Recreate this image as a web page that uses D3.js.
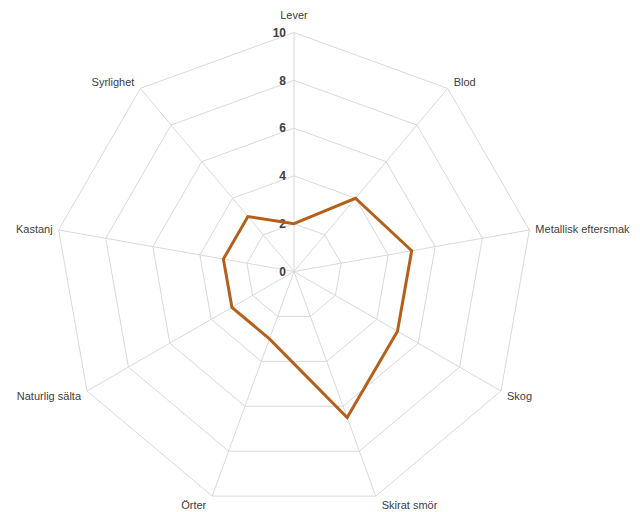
<!DOCTYPE html>
<html><head><meta charset="utf-8">
<script src="https://cdn.jsdelivr.net/npm/d3@7/dist/d3.min.js"></script>
<style>body{margin:0;background:#fff}svg{display:block}</style>
</head><body>
<svg id="c" width="640" height="512"></svg>
<script>
const categories = ["Lever","Blod","Metallisk eftersmak","Skog","Skirat smör","Örter","Naturlig sälta","Kastanj","Syrlighet"];
const values = [2, 4, 5, 5, 6.5, 3, 3, 3, 3];
const ticks = [0, 2, 4, 6, 8, 10];

const svg = d3.select("#c");
const cx = 294, cy = 271.5, R = 239;
const r = d3.scaleLinear().domain([0, 10]).range([0, R]);
const ang = d3.scaleLinear().domain([0, categories.length]).range([0, 2*Math.PI]);
const pt = (i, v) => [cx + r(v)*Math.sin(ang(i)), cy - r(v)*Math.cos(ang(i))];

const g = svg.append("g");
const line = d3.line();
ticks.filter(t => t > 0).forEach(t => {
  g.append("path")
    .attr("d", line(categories.map((c, i) => pt(i, t))) + "Z")
    .attr("fill", "none").attr("stroke", "#d9d9d9").attr("stroke-width", 1);
});
categories.forEach((c, i) => {
  const [x, y] = pt(i, 10);
  g.append("line").attr("x1", cx).attr("y1", cy).attr("x2", x).attr("y2", y)
    .attr("stroke", "#d9d9d9").attr("stroke-width", 1);
});
ticks.forEach(t => {
  g.append("text").attr("x", cx - 8).attr("y", cy - r(t)).attr("dy", "0.35em")
    .attr("text-anchor", "end").attr("font-family", "Liberation Sans, Arial, sans-serif")
    .attr("font-size", 12).attr("font-weight", "bold").attr("fill", "#404040").text(t);
});
categories.forEach((c, i) => {
  const [x, y] = pt(i, 10);
  const a = ang(i);
  const s = Math.sin(a), co = Math.cos(a);
  let anchor = Math.abs(s) < 0.05 ? "middle" : (s > 0 ? "start" : "end");
  let tx = x + (anchor === "middle" ? 0 : (s > 0 ? 6 : -6));
  let ty = y;
  if (anchor === "middle") ty = y - 17;
  else if (co > 0.5) ty = y - 6;
  else if (co < -0.9) ty = y + 9;
  else if (co < 0) ty = y + 5;
  else ty = y - 1;
  g.append("text").attr("x", tx).attr("y", ty).attr("dy", "0.35em")
    .attr("text-anchor", anchor).attr("font-family", "Liberation Sans, Arial, sans-serif")
    .attr("font-size", 11).attr("fill", "#404040").text(c);
});
g.append("path")
  .attr("d", line(values.map((v, i) => pt(i, v))) + "Z")
  .attr("fill", "none").attr("stroke", "#b5601a").attr("stroke-width", 3)
  .attr("stroke-linejoin", "miter");
</script>
</body></html>
